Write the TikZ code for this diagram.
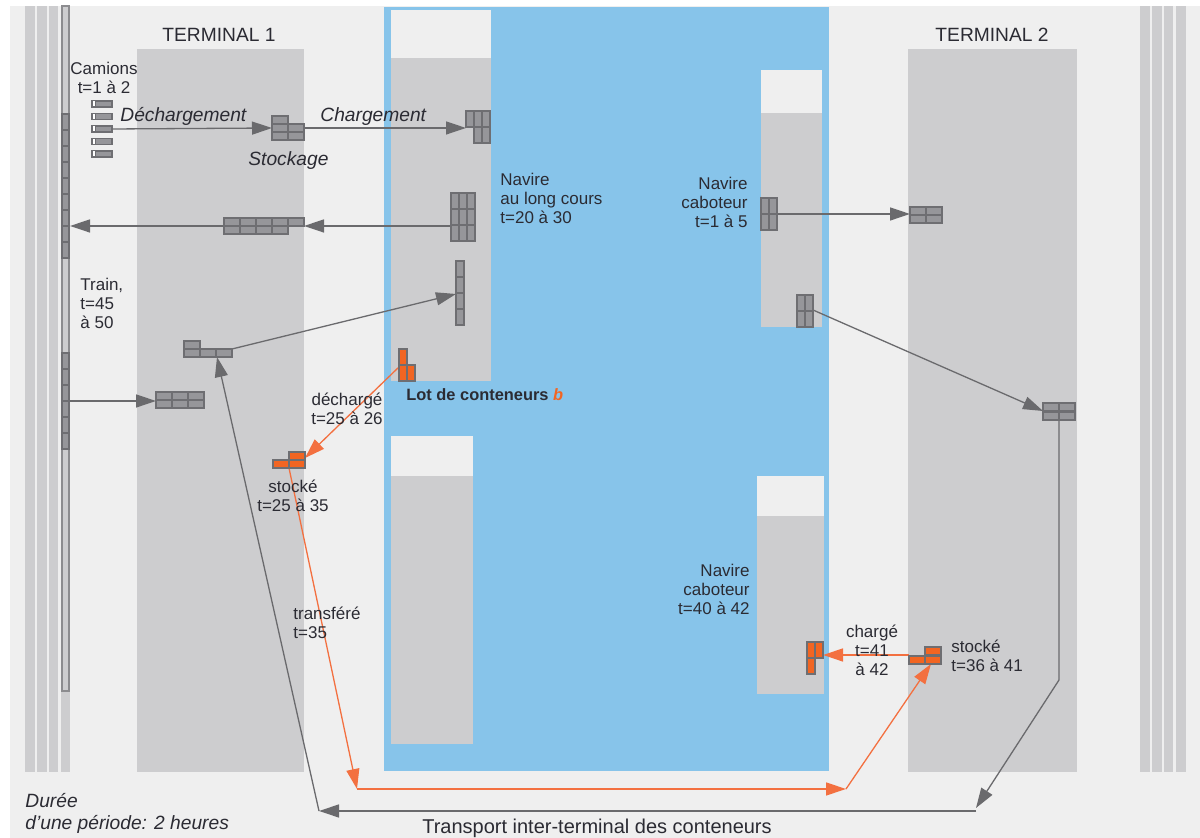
\documentclass[tikz,border=0pt]{standalone}
\usepackage{fontspec}
\setmainfont{Liberation Sans}
\usetikzlibrary{arrows.meta}

\definecolor{fond}{HTML}{EFEFEF}
\definecolor{quai}{HTML}{CDCDCF}
\definecolor{eau}{HTML}{87C4EA}
\definecolor{boite}{HTML}{96969A}
\definecolor{bord}{HTML}{6E6E72}
\definecolor{railbord}{HTML}{8C8C8F}
\definecolor{orangeb}{HTML}{F26522}
\definecolor{orangel}{HTML}{F37040}
\definecolor{fleche}{HTML}{6A6A6D}
\definecolor{texte}{HTML}{2B2B33}

% un conteneur couche (16x8) ou debout (8x16)
\newcommand{\conth}[3][cont]{\draw[#1] (#2,#3) rectangle ++(16,8);}
\newcommand{\contv}[3][cont]{\draw[#1] (#2,#3) rectangle ++(8,16);}
% navire : x1, x2, haut, fin de la proue, bas
\newcommand{\navire}[5]{\fill[fond] (#1,#3) rectangle (#2,#4); \fill[quai] (#1,#4) rectangle (#2,#5);}

\tikzset{
  cont/.style={fill=boite, draw=bord, line width=0.6pt},
  contb/.style={fill=orangeb, draw=bord, line width=0.6pt},
  flux/.style={draw=fleche, line width=0.65pt, ->},
  fluxb/.style={draw=orangel, line width=0.65pt, ->},
  lbl/.style={text=texte, font=\fontsize{8.5}{9.5}\selectfont, inner sep=0pt},
  lblit/.style={text=texte, font=\fontsize{9.6}{11}\selectfont\itshape, inner sep=0pt},
  titre/.style={text=texte, font=\fontsize{9.6}{11}\selectfont, inner sep=0pt}
}

\begin{document}
\begin{tikzpicture}[x=0.5pt, y=-0.5pt, >={Triangle[length=10pt, width=6.5pt]}]

  % 0. fond
  \useasboundingbox (0,0) rectangle (1200,838);
  \fill[white] (0,0) rectangle (1200,838);
  \fill[fond] (10,6) rectangle (1200,838);

  % 1. voies ferrees et train
  \foreach \x/\w in {25/10, 37/10, 49/9, 61/9, 1140/10, 1152/10, 1164/9, 1176/10}
    \fill[quai] (\x,6) rectangle ++(\w,766);
  \draw[fill=quai, draw=railbord, line width=0.6pt] (62,6) rectangle (69,691);
  \foreach \y in {114,130,...,242} \draw[cont] (62,\y) rectangle ++(7,16);
  \foreach \y in {353,369,...,433} \draw[cont] (62,\y) rectangle ++(7,16);
  \coordinate (trainA) at (70,226);
  \coordinate (trainB) at (70,401);

  % 2. terminaux
  \fill[quai] (137,49) rectangle (304,772);
  \fill[quai] (908,49) rectangle (1077,772);
  \node[titre] (term1) at (219,35) {TERMINAL 1};
  \node[titre] (term2) at (992,35) {TERMINAL 2};

  % 3. plan d'eau et navires
  \fill[eau] (384,7) rectangle (829,771);
  \navire{391}{491}{10}{58}{381}   % long cours
  \navire{391}{473}{436}{476}{744}
  \navire{761}{822}{70}{113}{327}  % caboteur t=1 a 5
  \navire{757}{824}{476}{516}{694} % caboteur t=40 a 42

  % 4. points d'accroche des flux
  \coordinate (camion) at (112,129);
  \coordinate (stockW) at (272,128);
  \coordinate (stockE) at (304,128);
  \coordinate (chargeW) at (466,128);
  \coordinate (navL) at (451,226);
  \coordinate (pileE) at (304,226);
  \coordinate (pileW) at (224,226);
  \coordinate (pile6) at (156,401);
  \coordinate (pile4E) at (232,349);
  \coordinate (pile4S) at (217,357);
  \coordinate (navV) at (456,294);
  \coordinate (cabA) at (777,214);
  \coordinate (t2pileA) at (910,214);
  \coordinate (cabB) at (813,310);
  \coordinate (t2pileB) at (1043,411);
  \coordinate (t2pileBS) at (1059,421);
  \coordinate (coude1) at (1059,680);
  \coordinate (coude2) at (976,808);
  \coordinate (coude3) at (976,811);
  \coordinate (coude4) at (319,811);
  % lot b
  \coordinate (lotW) at (400,366);
  \coordinate (stock1E) at (305,458);
  \coordinate (stock1S) at (289,468);
  \coordinate (virage1) at (357,789);
  \coordinate (virage2) at (846,789);
  \coordinate (stock2S) at (931,664);
  \coordinate (stock2W) at (909,655);
  \coordinate (cabLot) at (823,655);

  % 5. flux gris
  \draw[flux] (camion) -- (stockW);
  \draw[flux] (stockE) -- (chargeW);
  \draw[flux] (navL) -- (pileE);
  \draw[flux] (pileW) -- (trainA);
  \draw[flux] (trainB) -- (pile6);
  \draw[flux] (pile4E) -- (navV);
  \draw[flux] (cabA) -- (t2pileA);
  \draw[flux] (cabB) -- (t2pileB);
  \draw[flux] (t2pileBS) -- (coude1) -- (coude2);
  \draw[flux] (coude3) -- (coude4);
  \draw[flux] (coude4) -- (pile4S);

  % 6. flux du lot b
  \draw[fluxb] (lotW) -- (stock1E);
  \draw[fluxb] (stock1S) -- (virage1);
  \draw[fluxb] (virage1) -- (virage2);
  \draw[fluxb] (virage2) -- (stock2S);
  \draw[fluxb] (stock2W) -- (cabLot);

  % 7. conteneurs
  \foreach \i in {0,...,4} {
    \draw[cont] (92,101+12.5*\i) rectangle ++(20,6);
    \draw[draw=bord, fill=white, line width=0.5pt] (92,101+12.5*\i) rectangle ++(3,6);
  }
  \conth{272}{116} \conth{272}{124} \conth{288}{124} \conth{272}{132} \conth{288}{132}
  \contv{466}{111} \contv{474}{111} \contv{474}{127} \contv{482}{111} \contv{482}{127}
  \foreach \x in {451,459,467} {\foreach \y in {193,209,225} {\contv{\x}{\y}}}
  \foreach \x in {224,240,...,288} {\conth{\x}{218}}
  \foreach \x in {224,240,...,272} {\conth{\x}{226}}
  \foreach \x in {156,172,188} {\foreach \y in {392,400} {\conth{\x}{\y}}}
  \conth{184}{341} \conth{184}{349} \conth{200}{349} \conth{216}{349}
  \foreach \y in {261,277,293,309} {\contv{456}{\y}}
  \contv{761}{198} \contv{769}{198} \contv{761}{214} \contv{769}{214}
  \conth{910}{207} \conth{926}{207} \conth{910}{215} \conth{926}{215}
  \contv{797}{295} \contv{805}{295} \contv{797}{311} \contv{805}{311}
  \conth{1043}{403} \conth{1059}{403} \conth{1043}{412} \conth{1059}{412}
  % lot b
  \contv[contb]{399}{349} \contv[contb]{399}{365} \contv[contb]{407}{365}
  \conth[contb]{289}{452} \conth[contb]{273}{460} \conth[contb]{289}{460}
  \conth[contb]{925}{647} \conth[contb]{909}{656} \conth[contb]{925}{656}
  \contv[contb]{807}{642} \contv[contb]{807}{658} \contv[contb]{815}{642}

  % 8. textes
  \node[lbl, anchor=north, align=center] (camions) at (104,62) {Camions\\t=1 à 2};
  \node[lblit, anchor=north west] (dech) at (120,107) {Déchargement};
  \node[lblit, anchor=north west] (stockage) at (248,151) {Stockage};
  \node[lblit, anchor=north west] (charg) at (320,107) {Chargement};
  \node[lbl, anchor=north west, align=left] (navlc) at (500,173) {Navire\\au long cours\\t=20 à 30};
  \node[lbl, anchor=north east, align=right] (cab1) at (748,177) {Navire\\caboteur\\t=1 à 5};
  \node[lbl, anchor=north west, align=left] (train) at (80,278) {Train,\\t=45\\à 50};
  \node[lbl, anchor=north west, font=\fontsize{8.2}{9.5}\selectfont\bfseries] (lot) at (406,388)
    {Lot de conteneurs \textcolor{orangeb}{\textit{b}}};
  \node[lbl, anchor=north, align=center] (decharge) at (347,393) {déchargé\\t=25 à 26};
  \node[lbl, anchor=north, align=center] (stocke1) at (293,480) {stocké\\t=25 à 35};
  \node[lbl, anchor=north west, align=left] (transf) at (293,607) {transféré\\t=35};
  \node[lbl, anchor=north east, align=right] (cab2) at (750,564) {Navire\\caboteur\\t=40 à 42};
  \node[lbl, anchor=north, align=center] (charge) at (872,625) {chargé\\t=41\\à 42};
  \node[lbl, anchor=north west, align=left] (stocke2) at (951,640) {stocké\\t=36 à 41};
  \node[lblit, anchor=north west, align=left] (duree) at (25,793) {Durée\\d'une période: 2 heures};
  \node[titre, anchor=north, font=\fontsize{10}{11}\selectfont] (transport) at (597,819)
    {Transport inter-terminal des conteneurs};

\end{tikzpicture}
\end{document}
